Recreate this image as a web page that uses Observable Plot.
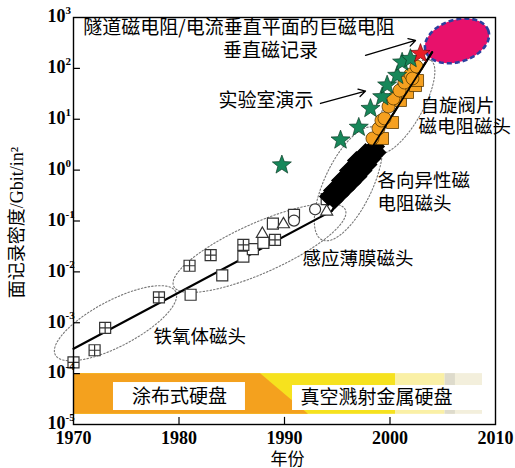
<!DOCTYPE html>
<html><head><meta charset="utf-8">
<script src="https://cdn.jsdelivr.net/npm/d3@7"></script>
<script src="https://cdn.jsdelivr.net/npm/@observablehq/plot@0.6"></script>
<style>html,body{margin:0;padding:0;background:#fff;}</style>
</head><body><div id="chart"></div>
<script>
// ---------- data ----------
const ferriteYears = [1970.0, 1972.0, 1973.0, 1978.1];
const ferriteVals  = [1.66e-4, 2.88e-4, 7.94e-4, 3.16e-3];

const indPlusYears = [1981.0, 1983.0, 1986.1, 1989.1];
const indPlusVals  = [1.32e-2, 2.14e-2, 3.39e-2, 4.27e-2];
const indSqYears = [1981.1, 1984.1, 1986.1, 1987.0, 1988.0, 1988.9, 1990.9, 1994.0];
const indSqVals  = [3.55e-3, 8.5e-3, 2.0e-2, 2.8e-2, 3.7e-2, 8.9e-2, 0.132, 0.27];
const indTriYears = [1987.9, 1989.9, 1994.0];
const indTriVals  = [5.75e-2, 8.9e-2, 0.158];
const indCircYears = [1990.9, 1992.9];
const indCircVals  = [0.102, 0.17];

const amrYears = [1994.17, 1994.55, 1995.02, 1995.31, 1995.78, 1996.07, 1996.54, 1996.82, 1997.30, 1997.68, 1998.15, 1998.63];
const amrVals  = [0.303, 0.398, 0.476, 0.625, 0.75, 0.984, 1.18, 1.55, 1.77, 2.22, 2.43, 2.91];
const amr2Years = [1994.74, 1995.31, 1995.88, 1996.45, 1997.01, 1997.49, 1997.96, 1998.34, 1998.82];
const amr2Vals  = [0.253, 0.332, 0.436, 0.571, 0.75, 0.984, 1.29, 1.69, 2.22];

const svCircYears = [1998.34, 1998.91, 1999.19, 1999.48, 1999.86, 2000.33, 2000.90, 2001.37, 2001.94, 2002.13, 2002.51];
const svCircVals  = [4.19, 6.58, 9.44, 10.4, 17.8, 25.6, 36.7, 52.7, 75.9, 63.2, 109];
const svSqYears = [1999.29, 2000.24, 2000.99, 2001.66, 2002.42, 2002.61];
const svSqVals  = [4.19, 8.63, 23.4, 33.6, 46, 57.8];

const labYears = [1989.75, 1995.31, 1997.04, 1998.15, 1999.26, 1999.73, 2000.68, 2001.15, 2001.94];
const labVals  = [1.26, 3.89, 6.92, 16.2, 27.5, 46.8, 72.4, 132, 155];
const perpYears = [2002.89];
const perpVals  = [195];

const trendYears = [1970, 1994.5, 2004.0];
const trendVals  = [3.09e-4, 0.158, 209];

// region ellipses: [centerYear, centerLog10, semiMajorPx, semiMinorPx, angleDeg]
const ellFerrite = [1973.98, -3.01, 68, 23, 27.7];
const ellInductive = [1987.63, -1.53, 94, 25, 24];
const ellAMR = [1996.07, -0.27, 62, 24, 64.7];
const ellSV = [2001.37, 1.255, 53, 18, 60.5];
const ellFuture = [2006.35, 2.54, 33, 21, 17.6];

const xTicks = [1970, 1980, 1990, 2000, 2010];
const yExps = [-5, -4, -3, -2, -1, 0, 1, 2, 3];

// ---------- layout ----------
const W = 515, H = 468, mL = 73, mR = 20, mT = 17, mB = 44;
const X0 = 1970, X1 = 2010, L0 = -5, L1 = 3;
const sx = (W - mL - mR) / (X1 - X0);
const sy = (H - mT - mB) / (L1 - L0);
const P = (lv) => Math.pow(10, lv);

function ellipse(e) {
  const [cx, cl, a, b, ang] = e;
  const th = ang * Math.PI / 180, pts = [];
  for (let i = 0; i <= 90; i++) {
    const t = i / 90 * 2 * Math.PI;
    const ex = a * Math.cos(t), ey = b * Math.sin(t);
    const px = ex * Math.cos(th) - ey * Math.sin(th);
    const py = ex * Math.sin(th) + ey * Math.cos(th);
    pts.push({x: cx + px / sx, y: P(cl + py / sy)});
  }
  return pts;
}

// ---------- symbols ----------
const squareSym = s => ({draw(c){const r=s/2;c.moveTo(-r,-r);c.lineTo(r,-r);c.lineTo(r,r);c.lineTo(-r,r);c.closePath();}});
const squarePlusSym = s => ({draw(c){const r=s/2;c.moveTo(-r,-r);c.lineTo(r,-r);c.lineTo(r,r);c.lineTo(-r,r);c.closePath();c.moveTo(0,-r);c.lineTo(0,r);c.moveTo(-r,0);c.lineTo(r,0);}});
const triSym = s => ({draw(c){const h=s*0.866;c.moveTo(0,-h*0.6);c.lineTo(s/2,h*0.4);c.lineTo(-s/2,h*0.4);c.closePath();}});
const diamondSym = h => ({draw(c){c.moveTo(0,-h);c.lineTo(h,0);c.lineTo(0,h);c.lineTo(-h,0);c.closePath();}});
const starSym = (R, r0) => ({draw(c){for(let i=0;i<10;i++){const a=-Math.PI/2+i*Math.PI/5;const rr=i%2?r0:R;const x=rr*Math.cos(a),y=rr*Math.sin(a);if(i)c.lineTo(x,y);else c.moveTo(x,y);}c.closePath();}});

const CJK = "'Noto Sans CJK SC', sans-serif";
const SERIF = "'Liberation Serif', 'DejaVu Serif', serif";

// bottom band
const bandTop = 1e-4, bandBot = P(-4.80);
const orangeArea = [
  {x: 1970, b: bandBot, t: bandTop},
  {x: 1987.73, b: bandBot, t: bandTop},
  {x: 1992.27, b: bandBot, t: bandBot}
];

const labelsCentered = [
  {x: 1985.69, y: P(2.803), t: "隧道磁电阻/电流垂直平面的巨磁电阻"},
  {x: 1988.67, y: P(2.351), t: "垂直磁记录"},
  {x: 1988.25, y: P(1.369), t: "实验室演示"},
  {x: 1980.05, y: P(-4.450), t: "涂布式硬盘"},
  {x: 1998.72, y: P(-4.469), t: "真空溅射金属硬盘"}
];
const labelsLeft = [
  {x: 2002.89, y: P(1.25), t: "自旋阀片"},
  {x: 2002.70, y: P(0.84), t: "磁电阻磁头"},
  {x: 1998.82, y: P(-0.225), t: "各向异性磁"},
  {x: 1998.82, y: P(-0.665), t: "电阻磁头"},
  {x: 1991.71, y: P(-1.757), t: "感应薄膜磁头"},
  {x: 1977.58, y: P(-3.290), t: "铁氧体磁头"}
];

const arrows = [
  {x1: 1997.68, y1: P(2.255), x2: 2002.42, y2: P(2.549)},
  {x1: 1993.41, y1: P(1.31), x2: 1997.68, y2: P(1.555)}
];

const dotted = {stroke: "#777", strokeWidth: 1.1, strokeDasharray: "1.5,2", fill: "none", curve: "linear"};
const orangeStyle = {fill: "#f5a020", stroke: "#5a3a00", strokeWidth: 0.8};

const chart = Plot.plot({
  width: W, height: H,
  marginLeft: mL, marginRight: mR, marginTop: mT, marginBottom: mB,
  x: {domain: [X0, X1], axis: null},
  y: {type: "log", domain: [P(L0), P(L1)], axis: null},
  style: {background: "white", overflow: "visible"},
  marks: [
    // bottom band
    Plot.rect([0], {x1: 2005.45, x2: 2008.77, y1: bandBot, y2: bandTop, fill: "#f3efdc"}),
    Plot.rect([0], {x1: 2005.2, x2: 2006.2, y1: bandBot, y2: bandTop, fill: "#dedbcc"}),
    Plot.rect([0], {x1: 2000.52, x2: 2005.2, y1: bandBot, y2: bandTop, fill: "#faf0a6"}),
    Plot.rect([0], {x1: 1970, x2: 2000.52, y1: bandBot, y2: bandTop, fill: "#f6e21e"}),
    Plot.area(orangeArea, {x1: "x", y1: "b", y2: "t", fill: "#f4a11e", curve: "linear"}),
    Plot.rect([0], {x1: 1973.79, x2: 1986.30, y1: P(-4.725), y2: P(-4.175), fill: "white"}),
    Plot.rect([0], {x1: 1990.76, x2: 2008.77, y1: P(-4.725), y2: P(-4.234), fill: "white"}),
    // region ellipses
    Plot.line(ellipse(ellFerrite), {x: "x", y: "y", ...dotted}),
    Plot.line(ellipse(ellInductive), {x: "x", y: "y", ...dotted}),
    Plot.line(ellipse(ellAMR), {x: "x", y: "y", ...dotted}),
    Plot.line(ellipse(ellSV), {x: "x", y: "y", ...dotted}),
    // future ellipse
    Plot.line(ellipse(ellFuture), {x: "x", y: "y", fill: "#e8116b", stroke: "#2c3f9e", strokeWidth: 2.6, strokeDasharray: "5,3", strokeLinecap: "butt", curve: "linear"}),
    // trend line (under markers)
    Plot.line(trendYears, {x: trendYears, y: trendVals, stroke: "black", strokeWidth: 2.2, curve: "linear"}),
    // markers
    Plot.dot(ferriteYears, {x: ferriteYears, y: ferriteVals, symbol: squarePlusSym(11), r: 5, fill: "white", stroke: "#333", strokeWidth: 1.2}),
    Plot.dot(indSqYears, {x: indSqYears, y: indSqVals, symbol: squareSym(11), r: 5, fill: "white", stroke: "#333", strokeWidth: 1.2}),
    Plot.dot(indPlusYears, {x: indPlusYears, y: indPlusVals, symbol: squarePlusSym(11), r: 5, fill: "white", stroke: "#333", strokeWidth: 1.2}),
    Plot.dot(indTriYears, {x: indTriYears, y: indTriVals, symbol: triSym(12), r: 5, fill: "white", stroke: "#333", strokeWidth: 1.2}),
    Plot.dot(indCircYears, {x: indCircYears, y: indCircVals, r: 5.5, fill: "white", stroke: "#333", strokeWidth: 1.2}),
    Plot.dot(amrYears, {x: amrYears, y: amrVals, symbol: diamondSym(8.5), r: 5, fill: "black", stroke: "black"}),
    Plot.dot(amr2Years, {x: amr2Years, y: amr2Vals, symbol: diamondSym(8), r: 5, fill: "black", stroke: "black"}),
    Plot.dot(svSqYears, {x: svSqYears, y: svSqVals, symbol: squareSym(12), r: 5, ...orangeStyle}),
    Plot.dot(svCircYears, {x: svCircYears, y: svCircVals, r: 6.5, ...orangeStyle}),
    // trend line segment visible over spin-valve markers
    Plot.line(trendYears.slice(1), {x: trendYears.slice(1), y: trendVals.slice(1), stroke: "black", strokeWidth: 1.8, curve: "linear"}),
    Plot.dot(labYears, {x: labYears, y: labVals, symbol: starSym(10, 4.2), r: 5, fill: "#17875a", stroke: "#0b3d26", strokeWidth: 0.7}),
    Plot.dot(perpYears, {x: perpYears, y: perpVals, symbol: starSym(10, 4.2), r: 5, fill: "#e81e26", stroke: "#6b0a0a", strokeWidth: 0.7}),
    // arrows
    Plot.arrow(arrows, {x1: "x1", y1: "y1", x2: "x2", y2: "y2", stroke: "black", strokeWidth: 1.3, headLength: 9, bend: 0}),
    // annotations
    Plot.text(labelsCentered, {x: "x", y: "y", text: "t", textAnchor: "middle", fontSize: 19, fontFamily: CJK, fill: "black"}),
    Plot.text(labelsLeft, {x: "x", y: "y", text: "t", textAnchor: "start", fontSize: 18.5, fontFamily: CJK, fill: "black"}),
    // frame & ticks
    Plot.frame({stroke: "black", strokeWidth: 1.4}),
    Plot.ruleX(xTicks.slice(1, -1), {y1: P(L0), y2: P(L0 + 0.14), stroke: "black", strokeWidth: 1.2}),
    Plot.ruleY(yExps.slice(1, -1).map(P), {x1: X0, x2: X0 + 0.66, stroke: "black", strokeWidth: 1.2}),
    Plot.text(xTicks, {x: xTicks, y: P(L0), dy: 14, text: d => String(d), fontSize: 18, fontWeight: "bold", fontFamily: SERIF, fill: "black"}),
    Plot.text(yExps, {x: X0, y: yExps.map(P), dx: -8, dy: -1, text: () => "10", textAnchor: "end", fontSize: 18, fontWeight: "bold", fontFamily: SERIF, fill: "black"}),
    Plot.text(yExps, {x: X0, y: yExps.map(P), dx: -8, dy: -7, text: d => (d < 0 ? "-" : "") + Math.abs(d), textAnchor: "start", fontSize: 11, fontWeight: "bold", fontFamily: SERIF, fill: "black"}),
    // axis titles
    Plot.text(["年份"], {x: 1990.28, y: P(-5.68), fontSize: 17, fontFamily: CJK, fill: "black"}),
    Plot.text(["面记录密度/Gbit/in²"], {x: X0, y: P(-1.03), dx: -56, rotate: -90, fontSize: 18, fontFamily: "'Liberation Serif', 'Noto Sans CJK SC', serif", fill: "black"})
  ]
});
document.getElementById("chart").appendChild(chart);
</script>
</body></html>
